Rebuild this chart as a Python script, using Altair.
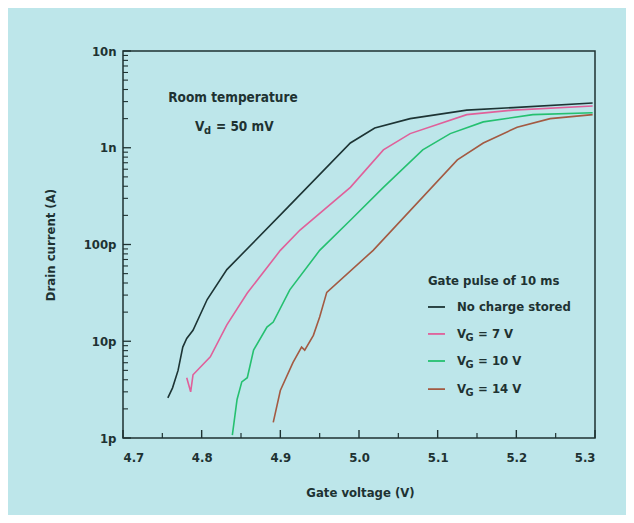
import altair as alt
import pandas as pd

# ---------------- data ----------------
series_names = ["No charge stored", "VG = 7 V", "VG = 10 V", "VG = 14 V"]
series_colors = ["#1d3434", "#e0609a", "#25c070", "#a35a42"]

v_none = [4.757, 4.763, 4.770, 4.776, 4.781, 4.789, 4.807, 4.832, 4.910, 4.989,
          5.020, 5.065, 5.137, 5.196, 5.297]
i_none = [2.6e-12, 3.3e-12, 5.0e-12, 8.7e-12, 10.7e-12, 13e-12, 27e-12, 55e-12, 245e-12,
          1.12e-9, 1.6e-9, 2.0e-9, 2.45e-9, 2.6e-9, 2.9e-9]

v_7 = [4.781, 4.786, 4.789, 4.811, 4.832, 4.858, 4.900, 4.925, 4.989, 5.031,
       5.065, 5.137, 5.196, 5.297]
i_7 = [4.2e-12, 3.0e-12, 4.5e-12, 6.9e-12, 14.8e-12, 31.5e-12, 87e-12, 141e-12, 390e-12,
       0.95e-9, 1.4e-9, 2.2e-9, 2.45e-9, 2.7e-9]

v_10 = [4.839, 4.845, 4.851, 4.858, 4.866, 4.883, 4.891, 4.912, 4.950, 4.989,
        5.031, 5.081, 5.116, 5.158, 5.221, 5.297]
i_10 = [1.07e-12, 2.5e-12, 3.8e-12, 4.2e-12, 8.1e-12, 14e-12, 15.8e-12, 34e-12, 87e-12,
        178e-12, 390e-12, 0.95e-9, 1.4e-9, 1.85e-9, 2.2e-9, 2.3e-9]

v_14 = [4.891, 4.900, 4.916, 4.927, 4.931, 4.942, 4.950, 4.959, 5.018, 5.125,
        5.158, 5.201, 5.243, 5.297]
i_14 = [1.45e-12, 3.1e-12, 6.0e-12, 8.7e-12, 8.1e-12, 11.5e-12, 17.8e-12, 32e-12, 87e-12,
        0.75e-9, 1.12e-9, 1.63e-9, 2.0e-9, 2.2e-9]

x_ticks_major = [4.7, 4.8, 4.9, 5.0, 5.1, 5.2, 5.3]
x_ticks_minor = [4.75, 4.85, 4.95, 5.05, 5.15, 5.25]
y_ticks_major = [1e-12, 1e-11, 1e-10, 1e-9, 1e-8]
y_ticks_minor = [m * e for e in [1e-12, 1e-11, 1e-10, 1e-9] for m in range(2, 10)]

legend_title = "Gate pulse of 10 ms"
legend_main = ["No charge stored", "V", "V", "V"]
legend_sub = ["", "G", "G", "G"]
legend_rest = ["", "= 7 V", "= 10 V", "= 14 V"]
legend_rows_i = [2.26e-11, 1.19e-11, 6.25e-12, 3.2e-12]
legend_title_i = 4.2e-11
legend_x_line = [5.0877, 5.1093]
legend_x_text = 5.1246

note_line1 = "Room temperature"
note_x1, note_i1 = 4.8398, 3.27e-9
note_x2, note_i2 = 4.7915, 1.64e-9

# ---------------- build tables ----------------
rows = []
for name, vs, cs in zip(series_names, [v_none, v_7, v_10, v_14], [i_none, i_7, i_10, i_14]):
    for k, (v, c) in enumerate(zip(vs, cs)):
        rows.append({"series": name, "v": v, "i": c, "order": k})
df = pd.DataFrame(rows)

leg = pd.DataFrame({
    "series": series_names,
    "main": legend_main,
    "sub": legend_sub,
    "rest": legend_rest,
    "i": legend_rows_i,
    "x0": [legend_x_line[0]] * 4,
    "x1": [legend_x_line[1]] * 4,
    "xt": [legend_x_text] * 4,
})

FONT = "'DejaVu Sans Condensed', 'Liberation Sans Narrow', 'Roboto Condensed', Roboto, sans-serif"
INK = "#1e3232"
BG = "#bde6ea"
W, H = 472, 387
FS = 13

xsc = alt.Scale(domain=[4.7, 5.3], nice=False, zero=False)
ysc = alt.Scale(type="log", domain=[1e-12, 1e-8], nice=False)
csc = alt.Scale(domain=series_names, range=series_colors)

label_expr = ("datum.value >= 5e-9 ? '10n' : datum.value >= 5e-10 ? '1n' : "
              "datum.value >= 5e-11 ? '100p' : datum.value >= 5e-12 ? '10p' : '1p'")

AX = alt.Axis(
    values=x_ticks_major, format=".1f", title="Gate voltage (V)",
    domain=False, ticks=False, grid=False, labelPadding=13, labelFontSize=FS,
    titleX=237, titleY=54, titleBaseline="middle", titleAlign="center")
AY = alt.Axis(
    values=y_ticks_major, labelExpr=label_expr, title="Drain current (A)",
    domain=False, ticks=False, grid=False, labelPadding=7, labelFontSize=FS,
    titleX=-73, titleY=H / 2, titleBaseline="middle", titleAlign="center")


def X(field):
    return alt.X(field, scale=xsc, axis=AX, title="Gate voltage (V)")


def Y(field):
    return alt.Y(field, scale=ysc, axis=AY, title="Drain current (A)")


lines = alt.Chart(df).mark_line(strokeWidth=1.6, clip=True).encode(
    x=X("v:Q"), y=Y("i:Q"),
    color=alt.Color("series:N", scale=csc, legend=None),
    order="order:Q",
)

ytm = alt.Chart(pd.DataFrame({"y": y_ticks_major})).mark_rule(color=INK, strokeWidth=1.3).encode(
    y=Y("y:Q"), x=alt.value(0), x2=alt.value(8))
ytn = alt.Chart(pd.DataFrame({"y": y_ticks_minor})).mark_rule(color=INK, strokeWidth=1.1).encode(
    y=Y("y:Q"), x=alt.value(0), x2=alt.value(5))
xtm = alt.Chart(pd.DataFrame({"x": x_ticks_major})).mark_rule(color=INK, strokeWidth=1.4).encode(
    x=X("x:Q"), y=alt.value(H), y2=alt.value(H - 8))
xtn = alt.Chart(pd.DataFrame({"x": x_ticks_minor})).mark_rule(color=INK, strokeWidth=1.2).encode(
    x=X("x:Q"), y=alt.value(H), y2=alt.value(H - 5))

txt = dict(font=FONT, fontWeight="bold", color=INK, baseline="middle")

note_df = pd.DataFrame({"x": [note_x1], "i": [note_i1], "t": [note_line1]})
note1 = alt.Chart(note_df).mark_text(align="center", fontSize=FS + 0.5, **txt).encode(
    x=X("x:Q"), y=Y("i:Q"), text="t:N")
vd_df = pd.DataFrame({"x": [note_x2], "i": [note_i2], "a": ["V"], "b": ["d"], "c": ["= 50 mV"]})
vd_a = alt.Chart(vd_df).mark_text(align="left", fontSize=FS + 0.5, **txt).encode(
    x=X("x:Q"), y=Y("i:Q"), text="a:N")
vd_b = alt.Chart(vd_df).mark_text(align="left", fontSize=11, dx=9, dy=4, **txt).encode(
    x=X("x:Q"), y=Y("i:Q"), text="b:N")
vd_c = alt.Chart(vd_df).mark_text(align="left", fontSize=FS + 0.5, dx=21, **txt).encode(
    x=X("x:Q"), y=Y("i:Q"), text="c:N")

lt_df = pd.DataFrame({"x": [legend_x_line[0]], "i": [legend_title_i], "t": [legend_title]})
leg_title = alt.Chart(lt_df).mark_text(align="left", fontSize=FS, **txt).encode(
    x=X("x:Q"), y=Y("i:Q"), text="t:N")
leg_lines = alt.Chart(leg).mark_rule(strokeWidth=1.8).encode(
    x=X("x0:Q"), x2="x1:Q", y=Y("i:Q"),
    color=alt.Color("series:N", scale=csc, legend=None))
leg_main = alt.Chart(leg).mark_text(align="left", fontSize=FS, **txt).encode(
    x=X("xt:Q"), y=Y("i:Q"), text="main:N")
leg_sub = alt.Chart(leg).mark_text(align="left", fontSize=11, dx=8.5, dy=4, **txt).encode(
    x=X("xt:Q"), y=Y("i:Q"), text="sub:N")
leg_rest = alt.Chart(leg).mark_text(align="left", fontSize=FS, dx=21, **txt).encode(
    x=X("xt:Q"), y=Y("i:Q"), text="rest:N")

chart = alt.layer(
    lines, ytm, ytn, xtm, xtn, note1, vd_a, vd_b, vd_c,
    leg_title, leg_lines, leg_main, leg_sub, leg_rest,
).properties(
    width=W, height=H,
    autosize=alt.AutoSizeParams(type="none"),
    padding={"left": 115, "top": 43, "right": 31, "bottom": 77},
    background=BG,
).configure_view(
    stroke=INK, strokeWidth=1.5,
).configure_axis(
    labelFont=FONT, labelFontWeight="bold", labelColor=INK,
    titleFont=FONT, titleFontWeight="bold", titleColor=INK, titleFontSize=FS,
)

chart.save("out.html", embed_options={"renderer": "svg", "actions": False})
